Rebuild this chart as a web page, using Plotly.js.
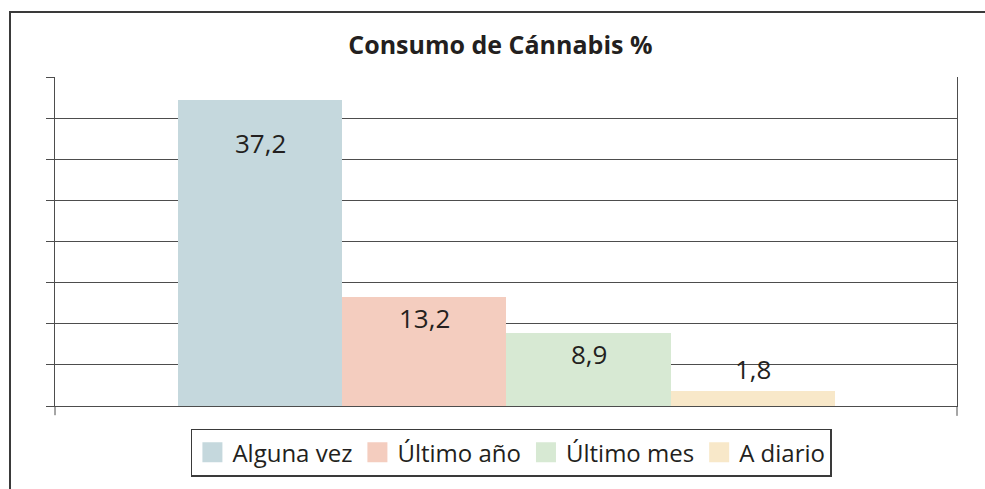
<!DOCTYPE html>
<html>
<head>
<meta charset="utf-8">
<script src="https://cdn.plot.ly/plotly-3.0.1.min.js"></script>
<style>
html,body{margin:0;padding:0;background:#fff;}
#wrap{position:relative;width:985px;height:489px;}
#chart{position:absolute;left:0;top:0;width:985px;height:489px;}
#frame{position:absolute;left:9px;top:11px;width:976px;height:478px;border-left:2px solid #3a3a3a;border-top:2px solid #3a3a3a;box-sizing:border-box;pointer-events:none;}
</style>
</head>
<body>
<div id="wrap"><div id="chart"></div><div id="frame"></div></div>
<script>
// Data
const chartTitle = "Consumo de Cánnabis %";
const categories = ["Alguna vez", "Último año", "Último mes", "A diario"];
const values = [37.2, 13.2, 8.9, 1.8];
const colors = ["#c5d8dd", "#f4cdbf", "#d7e9d3", "#f8e8c9"];
// label vertical offsets (px) relative to bar top
const labelShift = [-43, -21, -21, 22];

const fmt = v => v.toFixed(1).replace('.', ',');

const traces = categories.map((c, i) => ({
  type: 'bar',
  name: c,
  x: [c],
  y: [values[i]],
  marker: {color: colors[i], line: {width: 0}},
  hoverinfo: 'none'
}));

const annotations = categories.map((c, i) => ({
  x: c, y: values[i], xref: 'x', yref: 'y',
  text: fmt(values[i]), showarrow: false,
  yanchor: 'middle', yshift: labelShift[i],
  font: {family: 'Open Sans, sans-serif', size: 26, color: '#231f20'}
}));

const lineColor = '#4d4d4d';
const shapes = [
  {type: 'line', xref: 'paper', yref: 'paper', x0: 0, x1: 0, y0: 0, y1: -0.028, line: {color: lineColor, width: 1}},
  {type: 'line', xref: 'paper', yref: 'paper', x0: 1, x1: 1, y0: 0, y1: -0.03, line: {color: lineColor, width: 1}}
];

const layout = {
  width: 985, height: 489,
  margin: {l: 55, r: 28, t: 77, b: 81, pad: 0},
  paper_bgcolor: '#ffffff', plot_bgcolor: '#ffffff',
  font: {family: 'Open Sans, sans-serif', color: '#231f20'},
  title: {
    text: '<b>' + chartTitle + '</b>',
    font: {family: 'Open Sans, sans-serif', size: 25, color: '#231f20'},
    x: 0.508, xanchor: 'center', y: 0.908, yanchor: 'middle'
  },
  barmode: 'overlay',
  bargap: 0,
  xaxis: {
    type: 'category',
    range: [-1.249, 4.243],
    showticklabels: false, ticks: '', showgrid: false,
    showline: true, linecolor: lineColor, linewidth: 1,
    zeroline: false, fixedrange: true
  },
  yaxis: {
    range: [0, 40], dtick: 5, tick0: 0,
    showticklabels: false,
    ticks: 'outside', ticklen: 8, tickcolor: lineColor, tickwidth: 1,
    showgrid: true, gridcolor: lineColor, gridwidth: 1,
    showline: true, linecolor: lineColor, linewidth: 1, mirror: true,
    zeroline: false, fixedrange: true
  },
  showlegend: true,
  legend: {
    orientation: 'h',
    x: 0.506, xanchor: 'center',
    y: -0.069, yanchor: 'top',
    bordercolor: '#3a3a3a', borderwidth: 1.5, bgcolor: '#ffffff',
    font: {family: 'Open Sans, sans-serif', size: 24, color: '#231f20'},
    traceorder: 'normal'
  },
  annotations: annotations,
  shapes: shapes
};

Plotly.newPlot('chart', traces, layout, {staticPlot: true, displayModeBar: false}).then(gd => {
  gd.querySelectorAll('.legend .legendpoints path').forEach(p => {
    p.setAttribute('d', 'M10,10H-10V-10H10Z');
  });
});
</script>
</body>
</html>
